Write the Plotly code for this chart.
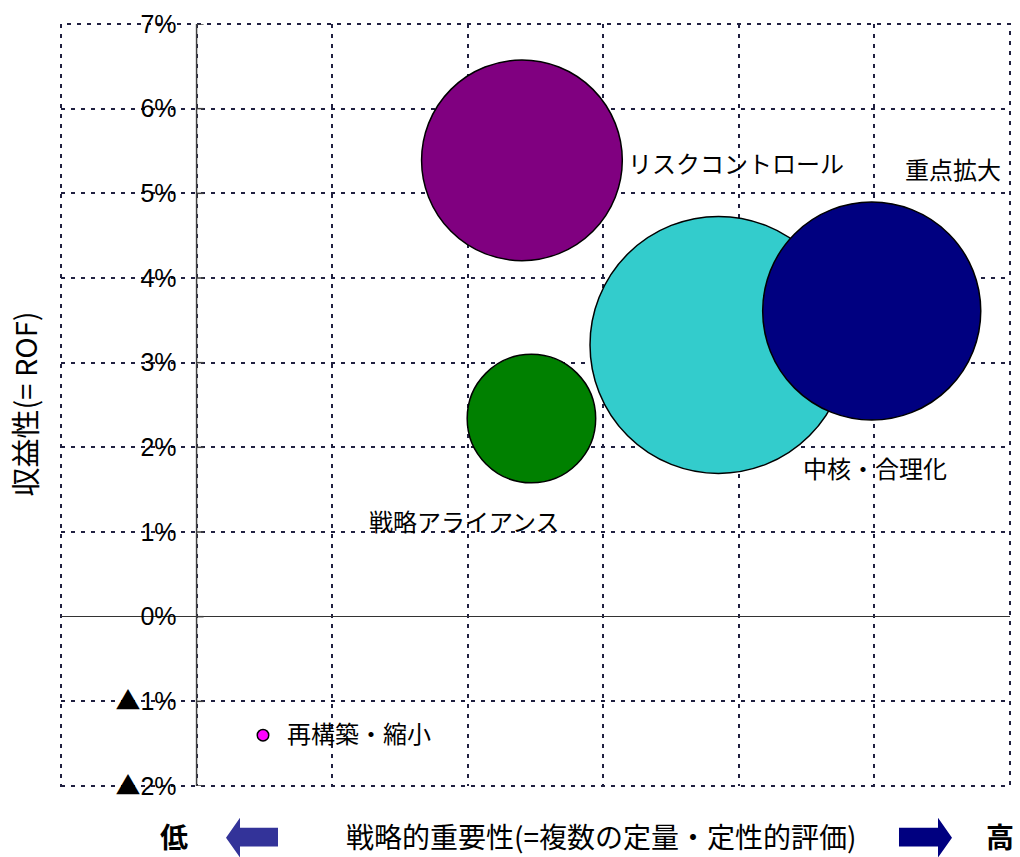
import plotly.graph_objects as go

# ---- data ----
categories = ["重点拡大", "中核・合理化", "リスクコントロール", "戦略アライアンス", "再構築・縮小"]
importance = [5.98, 4.85, 3.40, 3.47, 1.49]      # strategic importance (x, 0-7 scale)
rof_pct = [3.61, 3.21, 5.39, 2.34, -1.40]         # profitability ROF (%)
bubble_size = [72, 100, 61, 25, 0.2]              # bubble size (area)
colors = ["#000080", "#33CCCC", "#800080", "#008000", "#FF00FF"]

y_tick_vals = [-2, -1, 0, 1, 2, 3, 4, 5, 6, 7]
y_tick_text = ["▲2%", "▲1%", "0%", "1%", "2%", "3%", "4%", "5%", "6%", "7%"]
x_tick_vals = [0, 1, 2, 3, 4, 5, 6, 7]
y_axis_cross = 1   # vertical axis crosses at x = 1

# label positions (data coords, left anchored)
label_pos = {
    "リスクコントロール": (4.17, 5.37),
    "重点拡大": (6.21, 5.29),
    "中核・合理化": (5.46, 1.76),
    "戦略アライアンス": (2.26, 1.13),
    "再構築・縮小": (1.65, -1.365),
}

W, H = 1020, 857
ML, MR, MT, MB = 61, 10, 19, 71
PW, PH = W - ML - MR, H - MT - MB

def px(x):
    return (x - ML) / PW

def py(y):
    return (H - MB - y) / PH

order = sorted(range(len(categories)), key=lambda i: -bubble_size[i])
max_d = 257
sizeref = 2.0 * max(bubble_size) / (max_d ** 2)

fig = go.Figure()
fig.add_trace(go.Scatter(
    x=[importance[i] for i in order],
    y=[rof_pct[i] for i in order],
    mode="markers",
    marker=dict(
        size=[bubble_size[i] for i in order],
        sizemode="area",
        sizeref=sizeref,
        color=[colors[i] for i in order],
        line=dict(color="black", width=1.5),
        opacity=1,
    ),
    text=[categories[i] for i in order],
    hoverinfo="text",
    cliponaxis=False,
    showlegend=False,
))

label_font = dict(family="Noto Sans CJK JP", size=24, color="black")
annotations = []
for name, (lx, ly) in label_pos.items():
    annotations.append(dict(x=lx, y=ly, xref="x", yref="y", text=name,
                            showarrow=False, xanchor="left", yanchor="middle",
                            font=label_font))

# axis titles and decorations
annotations.append(dict(x=px(24), y=py(402), xref="paper", yref="paper",
                        text="収益性(= ROF)", textangle=-90, showarrow=False,
                        xanchor="center", yanchor="middle",
                        font=dict(family="Noto Sans CJK JP", size=29, color="black")))
annotations.append(dict(x=px(601), y=py(836), xref="paper", yref="paper",
                        text="戦略的重要性(=複数の定量・定性的評価)", showarrow=False,
                        xanchor="center", yanchor="middle",
                        font=dict(family="Noto Sans CJK JP", size=28, color="black")))
annotations.append(dict(x=px(174), y=py(836), xref="paper", yref="paper",
                        text="<b>低</b>", showarrow=False,
                        xanchor="center", yanchor="middle",
                        font=dict(family="Noto Sans CJK JP", size=28, color="black")))
annotations.append(dict(x=px(1000), y=py(836), xref="paper", yref="paper",
                        text="<b>高</b>", showarrow=False,
                        xanchor="center", yanchor="middle",
                        font=dict(family="Noto Sans CJK JP", size=28, color="black")))

def path(points):
    return "M " + " L ".join(f"{px(a):.5f},{py(b):.5f}" for a, b in points) + " Z"

left_arrow = [(226, 838), (240, 818), (240, 828), (278, 828), (278, 847), (240, 847), (240, 858)]
right_arrow = [(952, 838), (938, 818), (938, 828), (899, 828), (899, 847), (938, 847), (938, 858)]

grid_color = "#202040"
grid_dash = "4px,6px"
axis_color = "#404040"
shapes = [
    dict(type="path", xref="paper", yref="paper", path=path(left_arrow),
         fillcolor="#333399", line=dict(width=0)),
    dict(type="path", xref="paper", yref="paper", path=path(right_arrow),
         fillcolor="#000080", line=dict(width=0)),
    # dotted plot-area border
    dict(type="rect", xref="paper", yref="paper", x0=0, x1=1, y0=0, y1=1,
         line=dict(color=grid_color, width=2, dash=grid_dash), layer="below"),
    # vertical value axis line
    dict(type="line", xref="x", yref="y", x0=y_axis_cross, x1=y_axis_cross,
         y0=min(y_tick_vals), y1=max(y_tick_vals),
         line=dict(color=axis_color, width=1.5), layer="between"),
]
for v in y_tick_vals:
    shapes.append(dict(type="line", xref="x", yref="y", xsizemode="pixel",
                       xanchor=y_axis_cross, x0=0, x1=7, y0=v, y1=v,
                       line=dict(color=axis_color, width=1.5), layer="between"))

tri = '<span style="font-family:Noto Sans CJK JP">▲</span>'
tick_text_html = [t.replace("▲", tri) for t in y_tick_text]

fig.update_layout(
    width=W, height=H,
    margin=dict(l=ML, r=MR, t=MT, b=MB),
    paper_bgcolor="white", plot_bgcolor="white",
    annotations=annotations, shapes=shapes,
    xaxis=dict(range=[0, 7], tickvals=x_tick_vals, showticklabels=False,
               showgrid=True, gridcolor=grid_color, gridwidth=2, griddash=grid_dash,
               zeroline=False, showline=False, ticks=""),
    yaxis=dict(range=[-2, 7], tickvals=y_tick_vals, ticktext=tick_text_html,
               showgrid=True, gridcolor=grid_color, gridwidth=2, griddash=grid_dash,
               zeroline=True, zerolinecolor="#333333", zerolinewidth=1,
               anchor="free", position=y_axis_cross / 7, showline=False,
               ticks="", ticklabelstandoff=20,
               tickfont=dict(family="Liberation Sans, Arial", size=25, color="black")),
)

fig.write_html("out.html")
